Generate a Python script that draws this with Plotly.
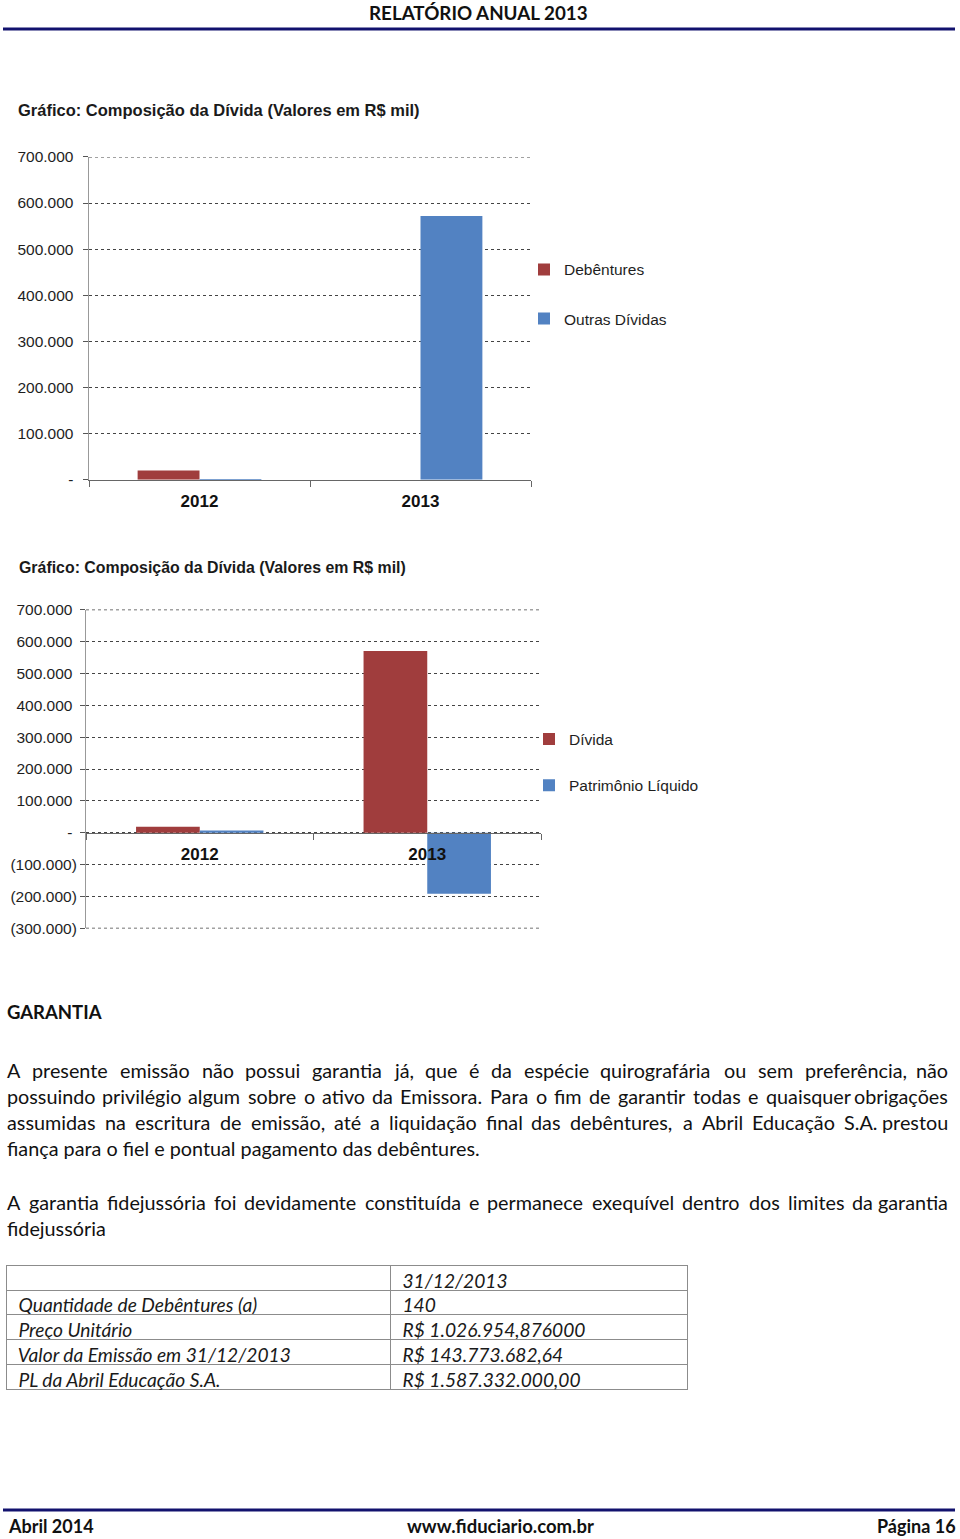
import unicodedata
import plotly.graph_objects as go

W, H = 960, 1539

# ---------------- data ----------------
years = ["2012", "2013"]

# Chart 1 – Composição da Dívida
debentures = [20000, 0]
outras_dividas = [1500, 572000]

# Chart 2 – Dívida x Patrimônio Líquido
divida = [19000, 570000]
patrimonio_liquido = [7000, -191000]

y1_tickvals = [0, 100000, 200000, 300000, 400000, 500000, 600000, 700000]
y1_ticktext = ["-", "100.000", "200.000", "300.000", "400.000", "500.000", "600.000", "700.000"]
y2_tickvals = [-300000, -200000, -100000, 0, 100000, 200000, 300000, 400000, 500000, 600000, 700000]
y2_ticktext = ["(300.000)", "(200.000)", "(100.000)", "-", "100.000", "200.000", "300.000",
               "400.000", "500.000", "600.000", "700.000"]

table_labels = ["Quantidade de Debêntures (a)", "Preço Unitário",
                "Valor da Emissão em 31/12/2013", "PL da Abril Educação S.A."]
table_values = ["140", "R$ 1.026.954,876000", "R$ 143.773.682,64", "R$ 1.587.332.000,00"]
table_header = ["", "31/12/2013"]

chart_title = "Gráfico: Composição da Dívida (Valores em R$ mil)"

paragraph1 = [
    "A presente emissão não possui garantia já, que é da espécie quirografária ou sem preferência, não",
    "possuindo privilégio algum sobre o ativo da Emissora. Para o fim de garantir todas e quaisquer obrigações",
    "assumidas na escritura de emissão, até a liquidação final das debêntures, a Abril Educação S.A. prestou",
    "fiança para o fiel e pontual pagamento das debêntures.",
]
paragraph2 = [
    "A garantia fidejussória foi devidamente constituída e permanece exequível dentro dos limites da garantia",
    "fidejussória",
]

# ---------------- helpers ----------------
NB = "\u00a0"
V_SCALE, V_OFF = 0.9896, 8.0   # compensates the vertical mapping of the capture


def px(x):
    return x / W


def py(y):
    return 1 - ((y - V_OFF) / V_SCALE) / H


RED = "#a03d3d"
BLUE = "#5282c2"
GRID = "#444"
AX_FONT = "Liberation Sans, Arial, sans-serif"
BODY_FONT = "Lato, Carlito, Calibri, sans-serif"

fig = go.Figure()

fig.add_bar(x=years, y=debentures, name="Debêntures", marker_color=RED,
            xaxis="x", yaxis="y", legend="legend", legendgroup="a")
fig.add_bar(x=years, y=outras_dividas, name="Outras Dívidas", marker_color=BLUE,
            xaxis="x", yaxis="y", legend="legend", legendgroup="b")
fig.add_bar(x=years, y=divida, name="Dívida", marker_color=RED,
            xaxis="x2", yaxis="y2", legend="legend2", legendgroup="c")
fig.add_bar(x=years, y=patrimonio_liquido, name="Patrimônio Líquido", marker_color=BLUE,
            xaxis="x2", yaxis="y2", legend="legend2", legendgroup="d")
fig.update_traces(marker_line_width=0, hoverinfo="x+y+name")

TABLE_SIZE = 19.2
ROW_H = 24.6 / V_SCALE
fig.add_trace(go.Table(
    domain=dict(x=[px(6), px(687)], y=[py(1392), py(1265)]),
    columnwidth=[384, 297],
    header=dict(values=[NB + v for v in table_header], height=ROW_H, align="left",
                line=dict(color="#8c8c8c", width=1), fill=dict(color="white"),
                font=dict(family=BODY_FONT, size=TABLE_SIZE, color="#1a1a1a", style="italic")),
    cells=dict(values=[[NB + v for v in table_labels], [NB + v for v in table_values]],
               height=ROW_H, align="left",
               line=dict(color="#8c8c8c", width=1), fill=dict(color="white"),
               font=dict(family=BODY_FONT, size=TABLE_SIZE, color="#1a1a1a", style="italic")),
))

# chart geometry
c1_top, c1_bot, c1_left, c1_right = 156, 479, 89, 531
c2_top, c2_bot, c2_left, c2_right = 609, 928, 86, 541
y1_range = [0, 700000]
y2_range = [-300000, 700000]
y2_dom = [py(c2_bot), py(c2_top)]
zero_pos = y2_dom[0] + (0 - y2_range[0]) / (y2_range[1] - y2_range[0]) * (y2_dom[1] - y2_dom[0])

ytick_font = dict(family=AX_FONT, size=15.5, color="#1e1e1e")
xtick_font = dict(family=AX_FONT, size=17, color="#111", weight="bold")

fig.update_layout(
    width=W, height=H, margin=dict(l=0, r=0, t=0, b=0), autosize=False,
    paper_bgcolor="white", plot_bgcolor="white",
    barmode="group", bargap=0.44, bargroupgap=0,
    xaxis=dict(domain=[px(c1_left), px(c1_right)], anchor="y", showline=True,
               linecolor="#666", linewidth=1.2, ticks="outside", tickson="boundaries",
               ticklen=6, tickcolor="#666", showgrid=False, tickfont=xtick_font,
               ticklabelstandoff=6, fixedrange=True),
    yaxis=dict(domain=[py(c1_bot), py(c1_top)], anchor="x", range=y1_range,
               tickvals=y1_tickvals, ticktext=[t + NB for t in y1_ticktext], showline=True,
               linecolor="#999", linewidth=1.2, showgrid=True, gridcolor=GRID,
               griddash="dot", gridwidth=1, zeroline=False, ticks="outside",
               ticklen=5, tickcolor="#555", tickfont=ytick_font,
               ticklabelstandoff=2, fixedrange=True),
    xaxis2=dict(domain=[px(c2_left), px(c2_right)], anchor="free", position=zero_pos,
                showline=True, linecolor="#666", linewidth=1.2, ticks="outside",
                tickson="boundaries", ticklen=6, tickcolor="#666", showgrid=False,
                tickfont=xtick_font, ticklabelstandoff=6, fixedrange=True),
    yaxis2=dict(domain=y2_dom, anchor="x2", range=y2_range,
                tickvals=y2_tickvals,
                ticktext=[t if t.startswith("(") else t + NB for t in y2_ticktext],
                showline=True,
                linecolor="#999", linewidth=1.2, showgrid=True, gridcolor=GRID,
                griddash="dot", gridwidth=1, zeroline=False, ticks="outside",
                ticklen=5, tickcolor="#555", tickfont=ytick_font,
                ticklabelstandoff=0, fixedrange=True),
    legend=dict(x=px(524), y=py(252), xanchor="left", yanchor="top",
                font=dict(family=AX_FONT, size=15.5, color="#1e1e1e"),
                tracegroupgap=26, traceorder="grouped", bgcolor="rgba(0,0,0,0)"),
    legend2=dict(x=px(529), y=py(722), xanchor="left", yanchor="top",
                 font=dict(family=AX_FONT, size=15.5, color="#1e1e1e"),
                 tracegroupgap=23, traceorder="grouped", bgcolor="rgba(0,0,0,0)"),
)

# gridlines at the top/bottom edges of the plot areas (plotly hides edge gridlines)
for ax_y, val in [("y", y1_range[1]), ("y2", y2_range[1]), ("y2", y2_range[0])]:
    xdom = "x domain" if ax_y == "y" else "x2 domain"
    fig.add_shape(type="line", xref=xdom, yref=ax_y, x0=0, x1=1, y0=val, y1=val,
                  line=dict(color=GRID, width=1.3, dash="dot"), layer="above")

# header / footer rules
for yy in (28, 1510):
    fig.add_shape(type="line", xref="paper", yref="paper", x0=px(3), x1=px(955),
                  y0=py(yy), y1=py(yy), line=dict(color="#12126e", width=3))


def text(x, y, s, size, xanchor="left", family=BODY_FONT, weight="normal", color="#111"):
    fig.add_annotation(x=px(x), y=py(y), xref="paper", yref="paper", text=s,
                       showarrow=False, xanchor=xanchor, yanchor="middle",
                       font=dict(family=family, size=size, color=color, weight=weight))


# header & footer texts
text(478, 12, "RELATÓRIO ANUAL 2013", 18.8, "center", weight="bold")
text(6, 1526, "Abril 2014", 18, "left", weight="bold")
text(500, 1526, "www.fiduciario.com.br", 18.5, "center", weight="bold")
text(958, 1526, "Página 16", 18, "right", weight="bold")

# chart titles
text(16, 109, chart_title, 16.5, "left", family=AX_FONT, weight="bold", color="#1a1a1a")
text(17, 567, chart_title, 15.9, "left", family=AX_FONT, weight="bold", color="#1a1a1a")

# body
text(5, 1012, "GARANTIA", 18.5, "left", weight="bold")

# approximate advance widths (em) of the body font, used to justify lines
CW = {" ": 0.193, "a": 0.50, "b": 0.563, "c": 0.461, "d": 0.563, "e": 0.522, "f": 0.328,
      "g": 0.508, "h": 0.56, "i": 0.234, "j": 0.234, "k": 0.521, "l": 0.234, "m": 0.833,
      "n": 0.56, "o": 0.56, "p": 0.555, "q": 0.563, "r": 0.395, "s": 0.429, "t": 0.36,
      "u": 0.56, "v": 0.517, "w": 0.783, "x": 0.497, "y": 0.517, "z": 0.457,
      "A": 0.68, "E": 0.55, "P": 0.57, "S": 0.49, ".": 0.23, ",": 0.23}


def est(word, size):
    tot = 0.0
    for c in word:
        base = unicodedata.normalize("NFD", c)[0]
        tot += CW.get(base, 0.58 if base.isupper() else 0.53)
    return tot * size


BODY_SIZE = 19.8
LEFT, RIGHT = 5, 950


def justified(y, line):
    words = line.split(" ")
    widths = [est(w, BODY_SIZE) for w in words]
    gap = (RIGHT - LEFT - sum(widths)) / (len(words) - 1)
    x = LEFT
    for i, w in enumerate(words):
        if i == len(words) - 1:
            text(RIGHT, y, w, BODY_SIZE, "right")
        else:
            text(x, y, w, BODY_SIZE, "left")
        x += widths[i] + gap


for i, ln in enumerate(paragraph1):
    yy = 1070 + 26 * i
    if i < len(paragraph1) - 1:
        justified(yy, ln)
    else:
        text(LEFT, yy, ln, BODY_SIZE, "left")
justified(1202, paragraph2[0])
text(LEFT, 1228, paragraph2[1], BODY_SIZE, "left")

fig.write_html("out.html")
